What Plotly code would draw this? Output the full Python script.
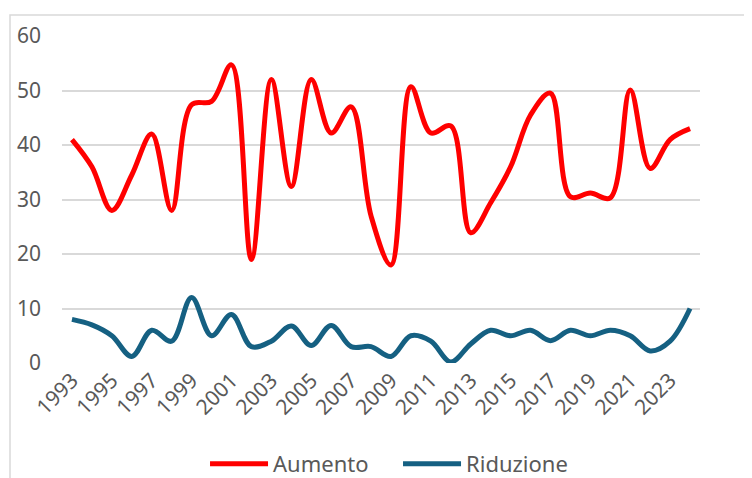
import plotly.graph_objects as go

# Dati
anni = list(range(1993, 2025))
aumento = [41, 36, 28, 34.5, 42, 28, 47.4, 48, 54.7, 19, 52, 32.4, 52, 42.2, 47, 27,
           18, 50.7, 42.2, 43.5, 23.9, 29.4, 36, 45.5, 49.5, 30.5, 31.2, 30.3, 50.1, 35.7, 41, 43]
riduzione = [8, 7, 5, 1.2, 6, 4, 12, 5, 8.9, 3, 4, 6.8, 3.2, 6.9, 3, 3,
             1.2, 5, 4, 0.2, 3.5, 6, 5, 6, 4.1, 6, 5, 6, 5, 2.2, 4, 10]
tick_anni = list(range(1993, 2025, 2))

fig = go.Figure()
fig.add_trace(go.Scatter(x=anni, y=aumento, mode='lines', name='Aumento',
                         line=dict(color='#FF0000', width=5, shape='spline', smoothing=1)))
fig.add_trace(go.Scatter(x=anni, y=riduzione, mode='lines', name='Riduzione',
                         line=dict(color='#156082', width=5, shape='spline', smoothing=1)))

# la pagina html ha un margine di 8px: si compensa nei margini
font_fam = 'Noto Sans'
fig.update_layout(
    width=752, height=478,
    margin=dict(l=54, r=60, t=28, b=123, autoexpand=False),
    plot_bgcolor='white', paper_bgcolor='white',
    font=dict(family=font_fam, size=21, color='#595959'),
    showlegend=True,
    legend=dict(orientation='h', xref='container', yref='container', x=0.262, y=0.046,
                xanchor='left', yanchor='middle', entrywidth=120, itemwidth=58,
                font=dict(size=22, color='#595959')),
    shapes=[dict(type='rect', xref='paper', yref='paper', x0=-0.0815, x1=1.3, y0=-0.6, y1=1.064,
                 line=dict(color='#D9D9D9', width=1.5), fillcolor='rgba(0,0,0,0)', layer='below')],
)
fig.update_xaxes(range=[1992.5, 2024.5], tickvals=tick_anni, ticktext=[str(a) for a in tick_anni],
                 tickangle=-45, showgrid=False, zeroline=False, showline=False, ticks='',
                 automargin=False)
fig.update_yaxes(range=[0, 60], dtick=10, showgrid=True, gridcolor='#D9D9D9', gridwidth=1.5,
                 zeroline=False, showline=False, ticks='', ticklabelstandoff=20, automargin=False)

fig.write_html("out.html")
